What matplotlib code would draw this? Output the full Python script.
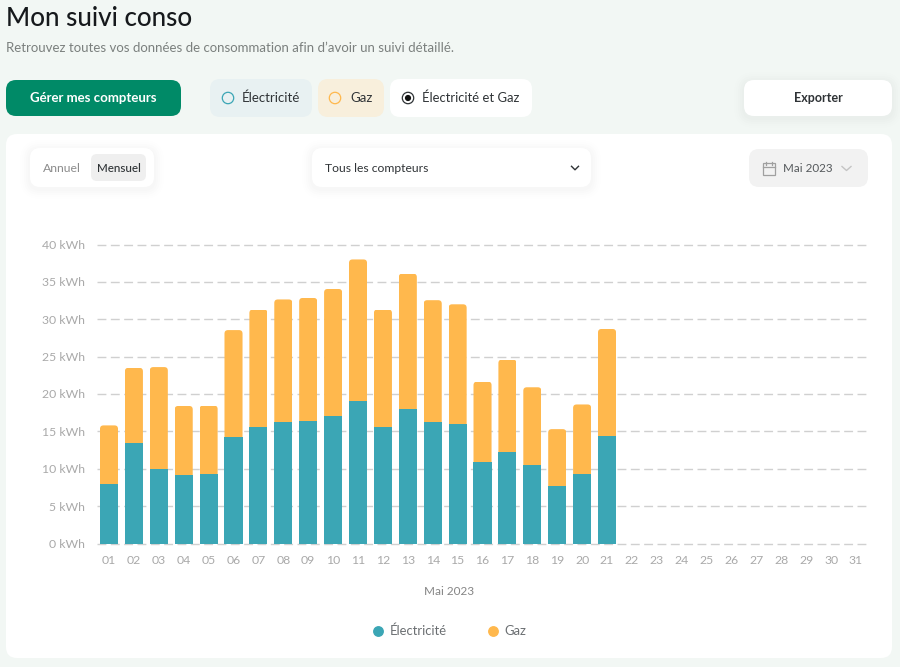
import matplotlib
matplotlib.use("Agg")
import matplotlib.pyplot as plt
from matplotlib.patches import FancyBboxPatch, Circle, Rectangle
from matplotlib.lines import Line2D
from matplotlib.transforms import IdentityTransform

W, H = 900, 667
FONT = "Lato"
plt.rcParams["font.family"] = [FONT, "DejaVu Sans"]

days = [f"{d:02d}" for d in range(1, 32)]
electricite = [7.95, 13.5, 10.0, 9.2, 9.25, 14.25, 15.6, 16.3, 16.4, 17.05, 19.0,
               15.65, 18.0, 16.25, 16.0, 10.85, 12.25, 10.45, 7.65, 9.3, 14.4]
gaz = [7.85, 10.0, 13.6, 9.2, 9.2, 14.3, 15.7, 16.35, 16.45, 17.0, 19.0,
       15.65, 18.1, 16.3, 16.0, 10.8, 12.35, 10.45, 7.65, 9.3, 14.3]
y_ticks = [0, 5, 10, 15, 20, 25, 30, 35, 40]
y_labels = [f"{v} kWh" for v in y_ticks]
period = "Mai 2023"

TEAL = "#3ba6b5"
AMBER = "#ffb84d"
GREY = "#a9a9a9"
DARK = "#2f3336"

fig = plt.figure(figsize=(W / 100, H / 100), dpi=100, facecolor="#f2f7f4")

# ---- page chrome, in pixel coordinates
ui = fig.add_axes([0, 0, 1, 1], zorder=0)
ui.set_xlim(0, W)
ui.set_ylim(H, 0)
ui.axis("off")


def box(x0, y0, x1, y1, color, r=10, shadow=False, z=1):
    if shadow:
        for grow, a in [(10, .004), (8, .005), (6, .006), (4, .007), (2, .008)]:
            ui.add_patch(FancyBboxPatch((x0 - grow, y0 - grow + 2), x1 - x0 + 2 * grow, y1 - y0 + 2 * grow,
                                        boxstyle=f"round,pad=0,rounding_size={r + grow}",
                                        fc="#203a30", ec="none", alpha=a, zorder=z))
    ui.add_patch(FancyBboxPatch((x0, y0), x1 - x0, y1 - y0,
                                boxstyle=f"round,pad=0,rounding_size={r}",
                                fc=color, ec="none", zorder=z + .1))


def label(x, y, s, size=9, color=DARK, ha="left", weight="normal"):
    ui.text(x, y, s, fontsize=size, color=color, ha=ha, va="center", weight=weight, zorder=5)


label(6, 18.5, "Mon suivi conso", size=18.7, color="#16191c", weight="medium")
label(6, 48, "Retrouvez toutes vos données de consommation afin d’avoir un suivi détaillé.",
      size=9.5, color="#7b807e")

box(6, 80, 181, 116, "#008a67", r=10)
label(93.5, 98, "Gérer mes compteurs", size=9.5, color="white", ha="center", weight="bold")

box(210, 79, 312, 117, "#e8f1f2")
ui.add_patch(Circle((228, 98), 5.7, fc="none", ec=TEAL, lw=.9, zorder=4))
label(242, 98, "Électricité", size=9.5)

box(318, 79, 384, 117, "#f8efdc")
ui.add_patch(Circle((335, 98), 5.7, fc="none", ec=AMBER, lw=.9, zorder=4))
label(350, 98, "Gaz", size=9.5)

box(390, 79, 532, 117, "white")
ui.add_patch(Circle((408, 98), 5.7, fc="none", ec=DARK, lw=.9, zorder=4))
ui.add_patch(Circle((408, 98), 3.1, fc="#111111", ec="none", zorder=4))
label(422, 98, "Électricité et Gaz", size=9.4)

box(744, 80, 892, 116, "white", shadow=True)
label(818, 98, "Exporter", size=9, ha="center", weight="bold")

box(6, 134, 892, 658, "white", r=11)

box(30, 148, 154, 187, "white", shadow=True, z=2)
box(91, 154, 146, 181, "#efefef", r=6, z=3)
label(43, 168, "Annuel", size=8.8, color="#8c8c8c")
label(96.5, 168, "Mensuel", size=8.4, weight="medium")

box(312, 148, 591, 187, "white", shadow=True, z=2)
label(325, 168, "Tous les compteurs", size=8.7)
ui.plot([571.5, 575, 578.5], [166.3, 169.8, 166.3], color=DARK, lw=1, zorder=5)

box(749, 149, 868, 187, "#f2f2f2", r=10, z=2)
ui.add_patch(Rectangle((762.5, 163), 12, 11.5, fc="none", ec="#a0a0a0", lw=.9, zorder=5))
ui.plot([762.5, 774.5], [166.8, 166.8], color="#a0a0a0", lw=.9, zorder=5)
ui.plot([765.5, 765.5], [161.5, 164.5], color="#a0a0a0", lw=.9, zorder=5)
ui.plot([771.5, 771.5], [161.5, 164.5], color="#a0a0a0", lw=.9, zorder=5)
label(783, 168, period, size=8.4, color="#55595c")
ui.plot([842, 846.5, 851], [166.5, 170.5, 166.5], color="#c4c4c4", lw=1, zorder=5)

# ---- the chart
L, R, TOP, BOT = 97, 867, 244.5, 543.5
ax = fig.add_axes([L / W, 1 - BOT / H, (R - L) / W, (BOT - TOP) / H], zorder=2)
ax.patch.set_alpha(0)
ax.set_xlim(0.518, 31.44)
ax.set_ylim(0, 40)
x = list(range(1, len(electricite) + 1))
bw = 0.725
ax.bar(x, electricite, width=bw, color=TEAL, zorder=3)
top_bars = ax.bar(x, gaz, width=bw, bottom=electricite, color=AMBER, zorder=3)

# only the top corners of the stacks are rounded
for b in top_bars:
    (x0, y0), (x1, y1) = ax.transData.transform(
        [(b.get_x(), b.get_y()), (b.get_x() + b.get_width(), b.get_y() + b.get_height())])
    clip = FancyBboxPatch((x0, y0 - 6), x1 - x0, y1 - y0 + 6,
                          boxstyle="round,pad=0,rounding_size=3.5", transform=IdentityTransform())
    b.set_clip_path(clip)

ax.set_yticks(y_ticks, y_labels)
ax.set_xticks(range(1, 32), days)
ax.yaxis.grid(True, color="#d0d0d0", lw=1, ls=(0, (6.4, 3.2)), zorder=0, clip_on=False)
ax.xaxis.grid(False)
ax.set_axisbelow(True)
for s in ax.spines.values():
    s.set_visible(False)
ax.tick_params(axis="y", length=0, pad=9, labelsize=8.8, labelcolor=GREY)
ax.tick_params(axis="x", length=0, pad=8, labelsize=8.8, labelcolor=GREY)
ax.set_xlabel(period, fontsize=8.5, color="#858585")
ax.xaxis.set_label_coords((449 - L) / (R - L), -(591.5 - BOT) / (BOT - TOP), transform=ax.transAxes)
ax.xaxis.label.set_verticalalignment("center")

handles = [Line2D([], [], ls="", marker="o", ms=6.8, color=TEAL, label="Électricité"),
           Line2D([], [], ls="", marker="o", ms=6.8, color=AMBER, label="Gaz")]
leg = ax.legend(handles=handles, ncol=2, frameon=False, loc="center",
                bbox_to_anchor=((448.5 - L) / (R - L), -(631 - BOT) / (BOT - TOP)),
                fontsize=9.4, labelcolor="#6b6f72", columnspacing=2.9, handletextpad=0.3, handlelength=1.2)

fig.savefig("out.png", dpi=100, facecolor=fig.get_facecolor())
